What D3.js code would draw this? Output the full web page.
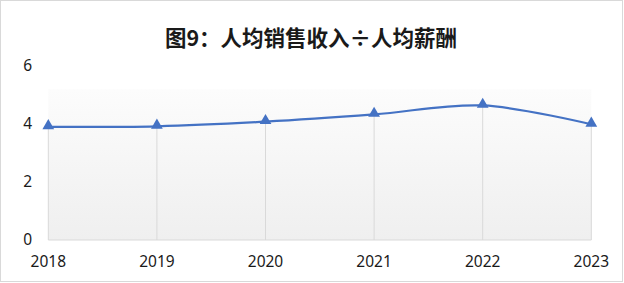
<!DOCTYPE html>
<html lang="zh">
<head>
    <meta charset="UTF-8">
    <title>图9：人均销售收入÷人均薪酬</title>
    <script src="https://d3js.org/d3.v7.min.js"></script>
    <style>
        body { margin: 0; background: #fff; }
        svg { display: block; }
        text { font-family: "Noto Sans", "Noto Sans CJK SC", sans-serif; fill: #1a1a1a; }
        .title { font-family: "Noto Sans CJK SC", sans-serif; font-weight: bold; }
    </style>
</head>
<body>
    <div id="chart"></div>
    <script>
        const years = ["2018", "2019", "2020", "2021", "2022", "2023"];
        const ratio = [3.9, 3.92, 4.08, 4.33, 4.64, 3.99];
        const yTicks = [0, 2, 4, 6];

        const width = 624, height = 283;
        const svg = d3.select("#chart").append("svg")
            .attr("width", width).attr("height", height);

        // outer chart border
        svg.append("rect")
            .attr("x", 0.5).attr("y", 0.5)
            .attr("width", width - 2).attr("height", height - 2)
            .attr("fill", "#fff").attr("stroke", "#d9d9d9");

        svg.append("text").attr("class", "title")
            .attr("x", 311).attr("y", 46)
            .attr("text-anchor", "middle")
            .style("font-size", "21.5px")
            .text("图9：人均销售收入÷人均薪酬");

        const x = d3.scalePoint().domain(years).range([48.3, 591.3]);
        const y = d3.scaleLinear().domain([0, 6]).range([240, 66]);

        // soft gradient background
        const defs = svg.append("defs");
        const grad = defs.append("linearGradient").attr("id", "bg")
            .attr("x1", 0).attr("y1", 0).attr("x2", 0).attr("y2", 1);
        grad.append("stop").attr("offset", "0%").attr("stop-color", "#fcfcfc");
        grad.append("stop").attr("offset", "100%").attr("stop-color", "#efefef");

        svg.append("rect")
            .attr("x", x(years[0])).attr("y", y(5.2))
            .attr("width", x(years[5]) - x(years[0]))
            .attr("height", y(0) - y(5.2))
            .attr("fill", "url(#bg)");

        // drop lines
        svg.append("g").selectAll("line")
            .data(years)
            .join("line")
            .attr("x1", d => x(d)).attr("x2", d => x(d))
            .attr("y1", (d, i) => y(ratio[i])).attr("y2", y(0))
            .attr("stroke", "#d9d9d9").attr("stroke-width", 1);

        // x axis line
        svg.append("line")
            .attr("x1", x(years[0])).attr("x2", x(years[5]))
            .attr("y1", y(0)).attr("y2", y(0))
            .attr("stroke", "#d9d9d9").attr("stroke-width", 1);

        // y tick labels
        svg.append("g").selectAll("text")
            .data(yTicks)
            .join("text")
            .attr("x", 32).attr("y", d => y(d))
            .attr("dy", "0.35em")
            .attr("text-anchor", "end")
            .style("font-size", "15.5px")
            .text(d => d);

        // x tick labels
        svg.append("g").selectAll("text")
            .data(years)
            .join("text")
            .attr("x", d => x(d)).attr("y", 262)
            .attr("dy", "0.35em")
            .attr("text-anchor", "middle")
            .style("font-size", "15.5px")
            .text(d => d);

        // smoothed line
        const line = d3.line()
            .x((d, i) => x(years[i]))
            .y(d => y(d))
            .curve(d3.curveCatmullRom.alpha(0));

        svg.append("path")
            .datum(ratio)
            .attr("d", line)
            .attr("fill", "none")
            .attr("stroke", "#4472c4")
            .attr("stroke-width", 2.2);

        // triangle markers
        const tri = d3.symbol().type(d3.symbolTriangle).size(60);
        svg.append("g").selectAll("path")
            .data(ratio)
            .join("path")
            .attr("d", tri)
            .attr("transform", (d, i) => `translate(${x(years[i])},${y(d) - 1})`)
            .attr("fill", "#4472c4");
    </script>
</body>
</html>
